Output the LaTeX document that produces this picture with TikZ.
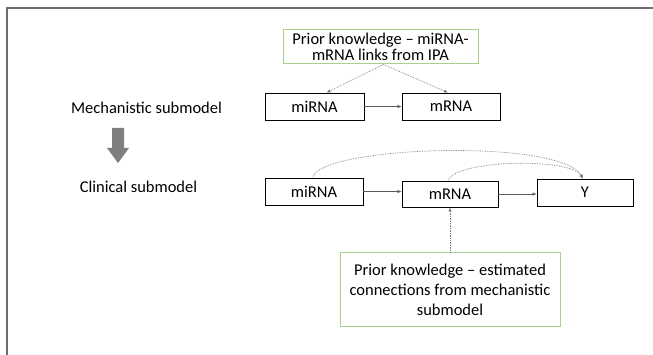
\documentclass[tikz,border=0pt]{standalone}
\usepackage{fontspec}
\setmainfont{Carlito}
\usetikzlibrary{arrows.meta}
\definecolor{framegray}{HTML}{6E6E6E}
\definecolor{boxgreen}{HTML}{A9D18E}
\definecolor{lineg}{HTML}{595959}
\definecolor{dotg}{HTML}{7A7A7A}
\definecolor{bigarrow}{HTML}{7F7F7F}
\begin{document}
\begin{tikzpicture}[x=1pt,y=-1pt,
  every node/.style={font=\fontsize{16.5}{20}\selectfont, inner sep=0pt, text=black},
  blackbox/.style={draw=black, line width=0.8pt, fill=white, minimum height=27pt},
  greenbox/.style={draw=boxgreen, line width=1pt, fill=white, align=center},
  solidarr/.style={draw=lineg, line width=0.7pt, -{Latex[length=4pt,width=3.5pt]}},
  dotarr/.style={draw=dotg, line width=0.7pt, densely dotted, -{Latex[length=4pt,width=3.5pt]}}
]
\useasboundingbox (0,0) rectangle (653,355);
% frame
\draw[framegray, line width=2pt] (7,356) -- (7,8) -- (654,8);

% left labels
\node (mechlbl) at (146.5,108) {Mechanistic submodel};
\node (cliniclbl) at (138.5,187) {Clinical submodel};
\fill[bigarrow] (112,128) -- (124,128) -- (124,148) -- (129,148) -- (118,163) -- (107,148) -- (112,148) -- cycle;

% mechanistic row
\node[greenbox, minimum width=195pt, minimum height=34pt, font=\fontsize{16.5}{16}\selectfont] (topk) at (380.5,47) {Prior knowledge -- miRNA-\\mRNA links from IPA};
\node[blackbox, minimum width=99pt] (m1) at (314.5,106.5) {miRNA};
\node[blackbox, minimum width=98pt] (m2) at (451,106.5) {mRNA};
\draw[solidarr] (m1.east) -- (m2.west);
\draw[dotarr] ([xshift=3pt]topk.south) -- ([xshift=12pt]m1.north);
\draw[dotarr] ([xshift=3pt]topk.south) -- ([xshift=-3pt]m2.north);

% clinical row
\node[blackbox, minimum width=98pt] (c1) at (314,191.5) {miRNA};
\node[blackbox, minimum width=96pt, minimum height=26pt] (c2) at (450,194) {mRNA};
\node[blackbox, minimum width=96pt] (yy) at (585,192.5) {Y};
\draw[solidarr] (c1.east) -- (c1.east -| c2.west);
\draw[solidarr] (c2.east) -- (c2.east -| yy.west);
\draw[dotarr] ([xshift=-1pt]c1.north) .. controls (318,146) and (560,138) .. ([xshift=-2pt]yy.north);
\draw[dotarr] ([xshift=-2pt]c2.north) .. controls (454,160) and (570,157) .. ([xshift=-2pt]yy.north);

% bottom prior box
\node[greenbox, minimum width=220pt, minimum height=73pt] (botk) at (450,289.5) {Prior knowledge -- estimated\\connections from mechanistic\\submodel};
\draw[dotarr] (botk.north) -- (c2.south);
\end{tikzpicture}
\end{document}
